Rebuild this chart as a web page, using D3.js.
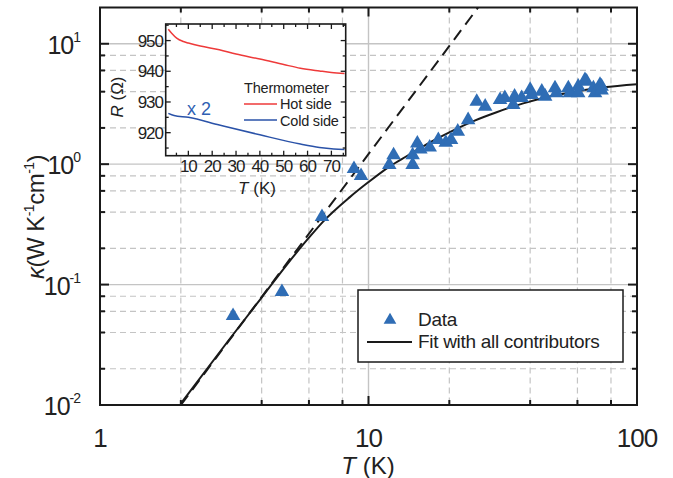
<!DOCTYPE html>
<html><head><meta charset="utf-8">
<script src="https://cdn.jsdelivr.net/npm/d3@7"></script>
<style>
body{margin:0;background:#fff;}
text{font-family:"Liberation Sans",Arial,Helvetica,sans-serif;fill:#222;}
</style></head>
<body><svg id="c" width="673" height="478"></svg>
<script>
// ---------- data ----------
const xMajor = [1, 10, 100];
const xMinor = [2, 4, 6, 8, 20, 40, 60, 80];
const yMajor = [0.01, 0.1, 1, 10];
const yMajorExp = ["-2", "-1", "0", "1"];
const yMinor = [0.02, 0.04, 0.06, 0.08, 0.2, 0.4, 0.6, 0.8, 2, 4, 6, 8];

const dataT = [3.13, 4.76, 6.71, 8.83, 9.38, 11.95, 12.4, 14.6, 14.6, 15.2, 15.6, 16.9, 18.2, 19.4, 20.3, 21.5, 23.5, 25.3, 27.2, 30.9, 32.2, 34.6, 35.0, 37.2, 40.0, 40.5, 44.2, 45.5, 49.5, 50.1, 55.5, 56.2, 60.4, 60.4, 64.9, 64.0, 68.8, 69.8, 72.8, 73.8, 73.8];
const dataK = [0.055, 0.087, 0.365, 0.914, 0.80, 0.987, 1.19, 0.99, 1.19, 1.49, 1.33, 1.38, 1.59, 1.51, 1.59, 1.87, 2.33, 3.31, 3.01, 3.42, 3.55, 3.11, 3.65, 3.55, 4.15, 3.77, 4.01, 3.65, 4.28, 3.89, 4.28, 3.9, 4.42, 3.89, 4.86, 5.0, 4.28, 3.89, 4.57, 4.42, 4.1];

const fitT = [2.0, 3.0, 4.0, 4.96, 6.0, 6.79, 8.5, 10, 12, 14, 16.5, 20, 24.6, 30, 37.7, 46, 57.9, 75, 100];
const fitK = [0.0103, 0.034, 0.078, 0.146, 0.245, 0.335, 0.53, 0.71, 0.96, 1.18, 1.47, 1.84, 2.28, 2.7, 3.2, 3.6, 3.98, 4.35, 4.62];

const dashT = [2.0, 25.6];
const dashK = [0.01, 20.0];

// inset
const insetXTicks = [10, 20, 30, 40, 50, 60, 70];
const insetXMinor = [5, 15, 25, 35, 45, 55, 65, 75];
const insetYTicks = [920, 930, 940, 950];
const insetYMinor = [915, 925, 935, 945, 955];
const hotT = [1.6, 3.0, 5.1, 7.9, 10, 15, 23, 30, 40, 50, 57, 65, 70, 75.5];
const hotR = [953.7, 952.4, 950.8, 949.7, 949.2, 948.2, 947, 945.6, 944, 942.2, 941, 940.1, 939.6, 939.3];
const coldT = [1.6, 4, 10, 23, 40, 57, 65, 71, 75.5];
const coldR = [926.3, 925.6, 925, 922.5, 919.3, 916.3, 915.2, 914.7, 914.5];

// ---------- layout ----------
const svg = d3.select("#c");
const L = 100, R = 637, T = 7.5, B = 405;
const x = d3.scaleLog().domain([1, 100]).range([L, R]);
const y = d3.scaleLog().domain([0.01, 20]).range([B, T]);

const gridCol = "#c4c4c4";
const g = svg.append("g");
g.selectAll(".gxm").data(xMinor).join("line")
  .attr("x1", d => x(d)).attr("x2", d => x(d)).attr("y1", T).attr("y2", B)
  .attr("stroke", gridCol).attr("stroke-width", 1.2).attr("stroke-dasharray", "6,4");
g.selectAll(".gxM").data([10]).join("line")
  .attr("x1", d => x(d)).attr("x2", d => x(d)).attr("y1", T).attr("y2", B)
  .attr("stroke", gridCol).attr("stroke-width", 1.4);
g.selectAll(".gym").data(yMinor).join("line")
  .attr("y1", d => y(d)).attr("y2", d => y(d)).attr("x1", L).attr("x2", R)
  .attr("stroke", gridCol).attr("stroke-width", 1.2).attr("stroke-dasharray", "6,4");
g.selectAll(".gyM").data([0.1, 1, 10]).join("line")
  .attr("y1", d => y(d)).attr("y2", d => y(d)).attr("x1", L).attr("x2", R)
  .attr("stroke", gridCol).attr("stroke-width", 1.4);

svg.append("clipPath").attr("id", "clip").append("rect")
  .attr("x", L).attr("y", T).attr("width", R - L).attr("height", B - T);

const pl = svg.append("g").attr("clip-path", "url(#clip)");
pl.append("path")
  .attr("d", d3.line()(dashT.map((t, i) => [x(t), y(dashK[i])])))
  .attr("fill", "none").attr("stroke", "#1a1a1a").attr("stroke-width", 2)
  .attr("stroke-dasharray", "12,7");
pl.append("path")
  .attr("d", d3.line().curve(d3.curveMonotoneX)(fitT.map((t, i) => [x(t), y(fitK[i])])))
  .attr("fill", "none").attr("stroke", "#1a1a1a").attr("stroke-width", 2);

const tri = d3.symbol().type(d3.symbolTriangle).size(92);
pl.selectAll(".pt").data(dataT.map((t, i) => [t, dataK[i]])).join("path")
  .attr("d", tri).attr("transform", d => `translate(${x(d[0])},${y(d[1])})`)
  .attr("fill", "#2f6db5");

svg.append("rect").attr("x", L).attr("y", T).attr("width", R - L).attr("height", B - T)
  .attr("fill", "none").attr("stroke", "#1a1a1a").attr("stroke-width", 2);

const tk = svg.append("g").attr("stroke", "#1a1a1a").attr("stroke-width", 2);
const MJ = 9, MN = 5;
xMajor.concat(xMinor).forEach(v => {
  const len = xMajor.includes(v) ? MJ : MN;
  tk.append("line").attr("x1", x(v)).attr("x2", x(v)).attr("y1", B).attr("y2", B - len);
  tk.append("line").attr("x1", x(v)).attr("x2", x(v)).attr("y1", T).attr("y2", T + len);
});
yMajor.concat(yMinor).forEach(v => {
  const len = yMajor.includes(v) ? MJ : MN;
  tk.append("line").attr("y1", y(v)).attr("y2", y(v)).attr("x1", L).attr("x2", L + len);
  tk.append("line").attr("y1", y(v)).attr("y2", y(v)).attr("x1", R).attr("x2", R - len);
});

svg.selectAll(".xl").data(xMajor).join("text")
  .attr("x", d => x(d)).attr("y", 447).attr("text-anchor", "middle")
  .attr("font-size", 26).attr("letter-spacing", -1).text(d => d);
yMajor.forEach((v, i) => {
  const t = svg.append("text").attr("x", 80).attr("y", y(v) + 10).attr("text-anchor", "end")
    .attr("font-size", 25).attr("letter-spacing", -1);
  t.append("tspan").text("10");
  t.append("tspan").attr("font-size", 14).attr("dy", -12).text(yMajorExp[i]);
});

const xt = svg.append("text").attr("x", 368).attr("y", 474).attr("text-anchor", "middle").attr("font-size", 24);
xt.append("tspan").attr("font-style", "italic").text("T");
xt.append("tspan").text(" (K)");
const yt = svg.append("text").attr("transform", "translate(44,217) rotate(-90)")
  .attr("text-anchor", "middle").attr("font-size", 24).attr("letter-spacing", -0.5);
yt.append("tspan").attr("font-style", "italic").text("κ");
yt.append("tspan").text("(W K");
yt.append("tspan").attr("font-size", 14).attr("dy", -10).text("-1");
yt.append("tspan").attr("dy", 10).text("cm");
yt.append("tspan").attr("font-size", 14).attr("dy", -10).text("-1");
yt.append("tspan").attr("dy", 10).text(")");

const lg = svg.append("g");
lg.append("rect").attr("x", 358).attr("y", 290).attr("width", 265).attr("height", 72)
  .attr("fill", "#fff").attr("stroke", "#1a1a1a").attr("stroke-width", 1.5);
lg.append("path").attr("d", d3.symbol().type(d3.symbolTriangle).size(70)())
  .attr("transform", "translate(390,320)").attr("fill", "#2f6db5");
lg.append("text").attr("x", 418).attr("y", 326).attr("font-size", 19).attr("letter-spacing", -0.3).text("Data");
lg.append("line").attr("x1", 367).attr("x2", 412).attr("y1", 342).attr("y2", 342)
  .attr("stroke", "#1a1a1a").attr("stroke-width", 2);
lg.append("text").attr("x", 418).attr("y", 348).attr("font-size", 19).attr("letter-spacing", -0.3).text("Fit with all contributors");

// ---------- inset ----------
const iL = 165.7, iR = 345.7, iT = 24, iB = 155.7;
const ix = d3.scaleLinear().domain([0.5, 76]).range([iL, iR]);
const iy = d3.scaleLinear().domain([912.5, 955.4]).range([iB, iT]);
const ins = svg.append("g");
ins.append("rect").attr("x", iL).attr("y", iT).attr("width", iR - iL).attr("height", iB - iT)
  .attr("fill", "#fff");
ins.append("path").attr("d", d3.line().curve(d3.curveMonotoneX)(hotT.map((t, i) => [ix(t), iy(hotR[i])])))
  .attr("fill", "none").attr("stroke", "#ee3a3a").attr("stroke-width", 1.5);
ins.append("path").attr("d", d3.line().curve(d3.curveMonotoneX)(coldT.map((t, i) => [ix(t), iy(coldR[i])])))
  .attr("fill", "none").attr("stroke", "#2a52a8").attr("stroke-width", 1.5);
ins.append("rect").attr("x", iL).attr("y", iT).attr("width", iR - iL).attr("height", iB - iT)
  .attr("fill", "none").attr("stroke", "#1a1a1a").attr("stroke-width", 1.6);
const itk = ins.append("g").attr("stroke", "#1a1a1a").attr("stroke-width", 1.3);
insetXTicks.concat(insetXMinor).forEach(v => {
  const len = insetXTicks.includes(v) ? 5 : 3;
  itk.append("line").attr("x1", ix(v)).attr("x2", ix(v)).attr("y1", iB).attr("y2", iB - len);
  itk.append("line").attr("x1", ix(v)).attr("x2", ix(v)).attr("y1", iT).attr("y2", iT + len);
});
insetYTicks.concat(insetYMinor).forEach(v => {
  const len = insetYTicks.includes(v) ? 5 : 3;
  itk.append("line").attr("y1", iy(v)).attr("y2", iy(v)).attr("x1", iL).attr("x2", iL + len);
  itk.append("line").attr("y1", iy(v)).attr("y2", iy(v)).attr("x1", iR).attr("x2", iR - len);
});
ins.selectAll(".ixl").data(insetXTicks).join("text")
  .attr("x", d => ix(d)).attr("y", 172).attr("text-anchor", "middle")
  .attr("font-size", 17).attr("letter-spacing", -1).text(d => d);
ins.selectAll(".iyl").data(insetYTicks).join("text")
  .attr("x", 163).attr("y", d => iy(d) + 6).attr("text-anchor", "end")
  .attr("font-size", 17).attr("letter-spacing", -1).text(d => d);
const ixt = ins.append("text").attr("x", 257).attr("y", 194).attr("text-anchor", "middle").attr("font-size", 17);
ixt.append("tspan").attr("font-style", "italic").text("T");
ixt.append("tspan").text(" (K)");
const iyt = ins.append("text").attr("transform", "translate(123,97) rotate(-90)").attr("text-anchor", "middle").attr("font-size", 17);
iyt.append("tspan").attr("font-style", "italic").text("R");
iyt.append("tspan").text(" (Ω)");
ins.append("text").attr("x", 187).attr("y", 115).attr("font-size", 18).style("fill", "#2f5fb3").text("x 2");
ins.append("text").attr("x", 244).attr("y", 93).attr("font-size", 14.5).attr("letter-spacing", -0.2).text("Thermometer");
ins.append("line").attr("x1", 244).attr("x2", 277).attr("y1", 104).attr("y2", 104).attr("stroke", "#ee3a3a").attr("stroke-width", 1.5);
ins.append("text").attr("x", 280).attr("y", 109).attr("font-size", 14.5).attr("letter-spacing", -0.2).text("Hot side");
ins.append("line").attr("x1", 244).attr("x2", 277).attr("y1", 120).attr("y2", 120).attr("stroke", "#2a52a8").attr("stroke-width", 1.5);
ins.append("text").attr("x", 280).attr("y", 126).attr("font-size", 14.5).attr("letter-spacing", -0.2).text("Cold side");
</script></body></html>
